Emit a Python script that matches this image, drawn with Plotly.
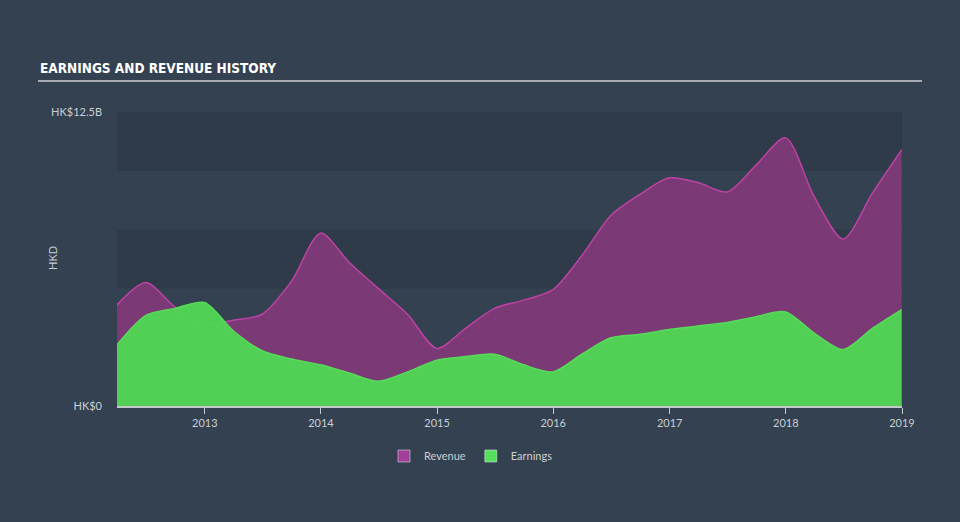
import plotly.graph_objects as go

dates = [
    "2012-03-31", "2012-06-30", "2012-09-30", "2012-12-31",
    "2013-03-31", "2013-06-30", "2013-09-30", "2013-12-31",
    "2014-03-31", "2014-06-30", "2014-09-30", "2014-12-31",
    "2015-03-31", "2015-06-30", "2015-09-30", "2015-12-31",
    "2016-03-31", "2016-06-30", "2016-09-30", "2016-12-31",
    "2017-03-31", "2017-06-30", "2017-09-30", "2017-12-31",
    "2018-03-31", "2018-06-30", "2018-09-30", "2018-12-31",
]
revenue_b = [4.3, 5.25, 4.2, 3.5, 3.65, 3.9, 5.3, 7.35,
             6.1, 5.0, 3.9, 2.45, 3.3, 4.15, 4.5, 4.95,
             6.4, 8.1, 9.0, 9.7, 9.5, 9.1, 10.25, 11.4,
             8.9, 7.1, 9.05, 10.9]
earnings_b = [2.6, 3.85, 4.15, 4.4, 3.2, 2.35, 2.0, 1.75,
              1.4, 1.05, 1.45, 1.95, 2.1, 2.2, 1.75, 1.45,
              2.2, 2.9, 3.05, 3.25, 3.4, 3.55, 3.8, 4.0,
              3.1, 2.4, 3.3, 4.1]
year_ticks = ["2013", "2014", "2015", "2016", "2017", "2018", "2019"]
y_ticks_b = [0, 12.5]
y_tick_text = ["HK$0", "HK$12.5B"]

revenue = [v * 1e9 for v in revenue_b]
earnings = [v * 1e9 for v in earnings_b]

BG = "#344150"
BAND_DARK = "#2f3b49"
BAND_LIGHT = "#344150"
TXT = "#c9ced4"
REV_FILL = "#7b3a76"
REV_LINE = "#bc43a3"
EARN_FILL = "rgba(80,214,84,0.96)"
EARN_LINE = "#57dc58"

fig = go.Figure()
fig.add_trace(go.Scatter(
    x=dates, y=revenue, mode="lines", line=dict(color=REV_LINE, width=1.5, shape="spline", smoothing=0.8),
    fill="tozeroy", fillcolor=REV_FILL, showlegend=False, hoverinfo="skip"))
fig.add_trace(go.Scatter(
    x=dates, y=earnings, mode="lines", line=dict(color=EARN_LINE, width=1.5, shape="spline", smoothing=0.8),
    fill="tozeroy", fillcolor=EARN_FILL, showlegend=False, hoverinfo="skip"))
# legend entries
fig.add_trace(go.Bar(x=[None], y=[None], name="Revenue", marker_color="#a43e99"))
fig.add_trace(go.Bar(x=[None], y=[None], name="Earnings", marker_color="#55e05a"))

shapes = []
for lo, hi in [(10, 12.5), (5, 7.5), (0, 2.5)]:
    shapes.append(dict(type="rect", xref="paper", yref="y", x0=0, x1=1, y0=lo * 1e9, y1=hi * 1e9,
                       fillcolor=BAND_DARK, line=dict(width=0), layer="below"))
L, T, W, H = 117, 112, 785, 294
def px(x):
    return (x - L) / W
def py(y):
    return (T + H - y) / H
shapes.append(dict(type="line", xref="paper", yref="paper", x0=px(38), x1=px(922), y0=py(81), y1=py(81),
                   line=dict(color="#a3a9b0", width=2)))

fig.update_layout(
    width=960, height=522,
    margin=dict(l=L, r=960 - L - W, t=T, b=522 - T - H),
    paper_bgcolor=BG, plot_bgcolor=BAND_LIGHT,
    font=dict(family="Lato, Open Sans, sans-serif", size=11, color=TXT),
    shapes=shapes,
    showlegend=True,
    legend=dict(orientation="h", x=px(471), y=py(456), xanchor="center", yanchor="middle",
                font=dict(size=11, color=TXT), bgcolor="rgba(0,0,0,0)"),
    annotations=[
        dict(text="<b>EARNINGS AND REVENUE HISTORY</b>", xref="paper", yref="paper", x=px(38), y=py(68),
             xanchor="left", yanchor="middle", showarrow=False,
             font=dict(family="DejaVu Sans Condensed, sans-serif", size=13.5, color="#ffffff")),
        dict(text="HKD", xref="paper", yref="paper", x=px(52), y=py(258), textangle=-90,
             xanchor="center", yanchor="middle", showarrow=False, font=dict(size=11, color=TXT)),
    ],
    bargap=0,
)
fig.update_xaxes(
    type="date", range=["2012-03-31", "2019-01-01"],
    tickvals=[y + "-01-01" for y in year_ticks], ticktext=year_ticks,
    showgrid=False, zeroline=False, showline=True, linecolor="#c5c9ce", linewidth=1.5,
    ticks="outside", ticklen=6, tickcolor="#c5c9ce", tickfont=dict(size=11, color=TXT),
)
fig.update_yaxes(
    range=[0, 12.5e9], tickvals=[v * 1e9 for v in y_ticks_b], ticktext=y_tick_text,
    showgrid=False, zeroline=False, showline=False, ticks="", ticklabelstandoff=14,
    tickfont=dict(size=11, color=TXT),
)
fig.write_html("out.html")
